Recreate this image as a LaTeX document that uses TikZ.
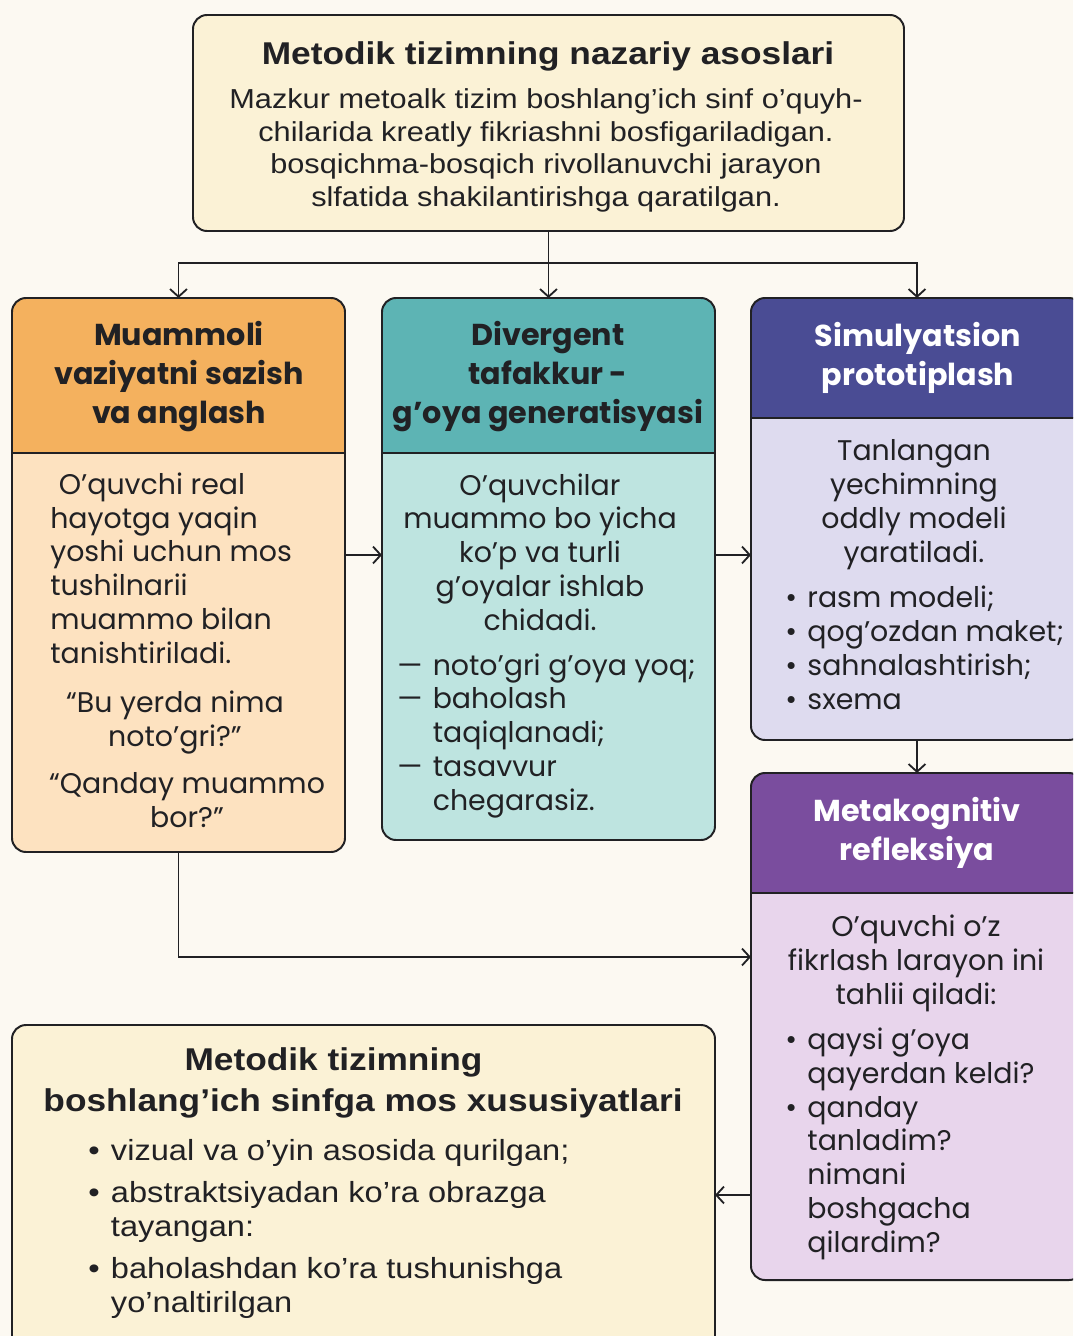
\documentclass[tikz,border=0pt]{standalone}
\usepackage{fontspec}
\setmainfont{Poppins}
\newfontfamily\gridfont[FakeStretch=1.12]{Liberation Sans}
\usetikzlibrary{arrows.meta, fit, positioning}
\definecolor{ink}{RGB}{33,33,36}
\definecolor{paper}{RGB}{252,249,242}
\definecolor{creamfill}{RGB}{251,242,214}
\definecolor{orangehead}{RGB}{244,177,94}
\definecolor{orangebody}{RGB}{253,226,192}
\definecolor{tealhead}{RGB}{93,180,180}
\definecolor{tealbody}{RGB}{190,228,224}
\definecolor{indigohead}{RGB}{74,76,148}
\definecolor{indigobody}{RGB}{222,219,239}
\definecolor{purplehead}{RGB}{122,77,158}
\definecolor{purplebody}{RGB}{232,213,236}
\tikzset{
    line cap=round,
    line join=round,
    card/.style={
        draw=ink,
        line width=1.4pt,
        rounded corners=0.35cm
    },
    cardnode/.style={
        inner sep=0pt,
        outer sep=0pt
    },
    headline/.style={
        draw=ink,
        line width=1.1pt
    },
    headtext/.style={
        font=\fontsize{21.5}{27.7}\selectfont\bfseries,
        align=center,
        text=ink,
        anchor=base,
        inner sep=0pt
    },
    bodytext/.style={
        font=\fontsize{20.2}{24}\selectfont,
        align=center,
        text=ink,
        anchor=base,
        inner sep=0pt
    },
    listtext/.style={
        bodytext,
        align=left,
        anchor=base west
    },
    toptitle/.style={
        font=\gridfont\fontsize{22.4}{28.5}\selectfont\bfseries,
        align=center,
        text=ink,
        anchor=base,
        inner sep=0pt
    },
    topbody/.style={
        font=\gridfont\fontsize{19.5}{23}\selectfont,
        align=center,
        text=ink,
        anchor=base,
        inner sep=0pt
    },
    flow/.style={
        -{Straight Barb[length=5.5pt,width=12pt]},
        draw=ink,
        line width=1.3pt
    }
}
% one stage card: name, x1, y1, x2, y2, header bottom, header colour, body colour
\newcommand{\stagebox}[8]{%
    \begin{scope}
        \clip[rounded corners=0.35cm] (#2,#3) rectangle (#4,#5);
        \fill[#8] (#2,#3) rectangle (#4,#5);
        \fill[#7] (#2,#3) rectangle (#4,#6);
    \end{scope}
    \draw[headline] (#2,#6) -- (#4,#6);
    \draw[card] (#2,#3) rectangle (#4,#5);
    \node[cardnode, fit={(#2,#3) (#4,#5)}] (#1) {};
}
\newcommand{\bul}{\makebox[0.78em][l]{•}}
\newcommand{\dsh}{\makebox[1.25em][l]{—}}

\begin{document}
\begin{tikzpicture}[x=0.025cm, y=-0.025cm]
\useasboundingbox (0,0) rectangle (1073,1336);
\fill[paper] (0,0) rectangle (1073,1336);
\clip (0,0) rectangle (1073,1336);

% Top box
\draw[card, fill=creamfill] (193,15) rectangle (904,231);
\node[cardnode, fit={(193,15) (904,231)}] (top) {};
\node[toptitle] (toptitletext) at (548,64) {Metodik tizimning nazariy asoslari};
\node[topbody] (topbodytext) at (546,206)
    {Mazkur metoalk tizim boshlang’ich sinf o’quyh-\\
     chilarida kreatly fikriashni bosfigariladigan.\\
     bosqichma-bosqich rivollanuvchi jarayon\\
     slfatida shakilantirishga qaratilgan.};

% Stage cards
\stagebox{b1}{12}{298}{345}{852}{453}{orangehead}{orangebody}
\stagebox{b2}{382}{298}{715}{840}{453}{tealhead}{tealbody}
\stagebox{b3}{751}{298}{1083}{740}{418}{indigohead}{indigobody}
\stagebox{b4}{751}{773}{1083}{1280}{893}{purplehead}{purplebody}

% Bottom box
\draw[card, fill=creamfill] (12,1025) rectangle (715,1360);
\node[cardnode, fit={(12,1025) (715,1360)}] (b5) {};

% Headers
\node[headtext] (h1) at (179,423) {Muammoli\\vaziyatni sazish\\va anglash};
\node[headtext] (h2) at (548,423) {Divergent\\tafakkur -\\g’oya generatisyasi};
\node[headtext, text=white] (h3) at (918,385) {Simulyatsion\\prototiplash};
\node[headtext, text=white] (h4) at (917,860) {Metakognitiv\\refleksiya};

% Card 1 text
\node[listtext] (t1) at (50,663)
    {\hspace*{0.3em}O’quvchi real\\hayotga yaqin\\yoshi uchun mos\\tushilnarii\\muammo bilan\\tanishtiriladi.};
\node[bodytext] (q1) at (175,746) {“Bu yerda nima\\noto’gri?”};
\node[bodytext] (q2) at (187,827) {“Qanday muammo\\bor?”};

% Card 2 text
\node[bodytext] (t2) at (540,630)
    {O’quvchilar\\muammo bo yicha\\ko’p va turli\\g’oyalar ishlab\\chidadi.};
\node[listtext] (l2) at (397,810)
    {\dsh noto’gri g’oya yoq;\\\dsh baholash\\\hspace*{1.25em}taqiqlanadi;\\\dsh tasavvur\\\hspace*{1.25em}chegarasiz.};

% Card 3 text
\node[bodytext] (t3) at (914,562)
    {Tanlangan\\yechimning\\oddly modeli\\yaratiladi.};
\node[listtext] (l3) at (785,709)
    {\bul rasm modeli;\\\bul qog’ozdan maket;\\\bul sahnalashtirish;\\\bul sxema};

% Card 4 text
\node[bodytext] (t4) at (916,1004)
    {O’quvchi o’z\\fikrlash larayon ini\\tahlii qiladi:};
\node[listtext] (l4) at (785,1252)
    {\bul qaysi g’oya\\\hspace*{0.78em}qayerdan keldi?\\\bul qanday\\\hspace*{0.78em}tanladim?\\\hspace*{0.78em}nimani\\\hspace*{0.78em}boshgacha\\\hspace*{0.78em}qilardim?};

% Bottom box text
\node[toptitle] (t5) at (363,1111)
    {Metodik tizimning\hspace*{42pt}\\boshlang’ich sinfga mos xususiyatlari};
\node[topbody, font=\gridfont\fontsize{20.7}{24}\selectfont, align=left, anchor=base west] (l5) at (88,1312)
    {\bul vizual va o’yin asosida qurilgan;\\[6pt]
     \bul abstraktsiyadan ko’ra obrazga\\\hspace*{0.78em}tayangan:\\[6pt]
     \bul baholashdan ko’ra tushunishga\\\hspace*{0.78em}yo’naltirilgan};

% Connectors
\coordinate (split) at (548,263);
\coordinate (rowA) at (0,555);
\coordinate (rowB) at (0,957);
\coordinate (rowC) at (0,1195);
\draw[flow] (top.south) -- (b2.north);
\draw[flow] (split) -| (b1.north);
\draw[flow] (split) -| (b3.north);
\draw[flow] (b1.east |- rowA) -- (b2.west |- rowA);
\draw[flow] (b2.east |- rowA) -- (b3.west |- rowA);
\draw[flow] (b3.south) -- (b4.north);
\draw[flow] (b1.south) |- (b4.west |- rowB);
\draw[flow] (b4.west |- rowC) -- (b5.east |- rowC);
\end{tikzpicture}
\end{document}
